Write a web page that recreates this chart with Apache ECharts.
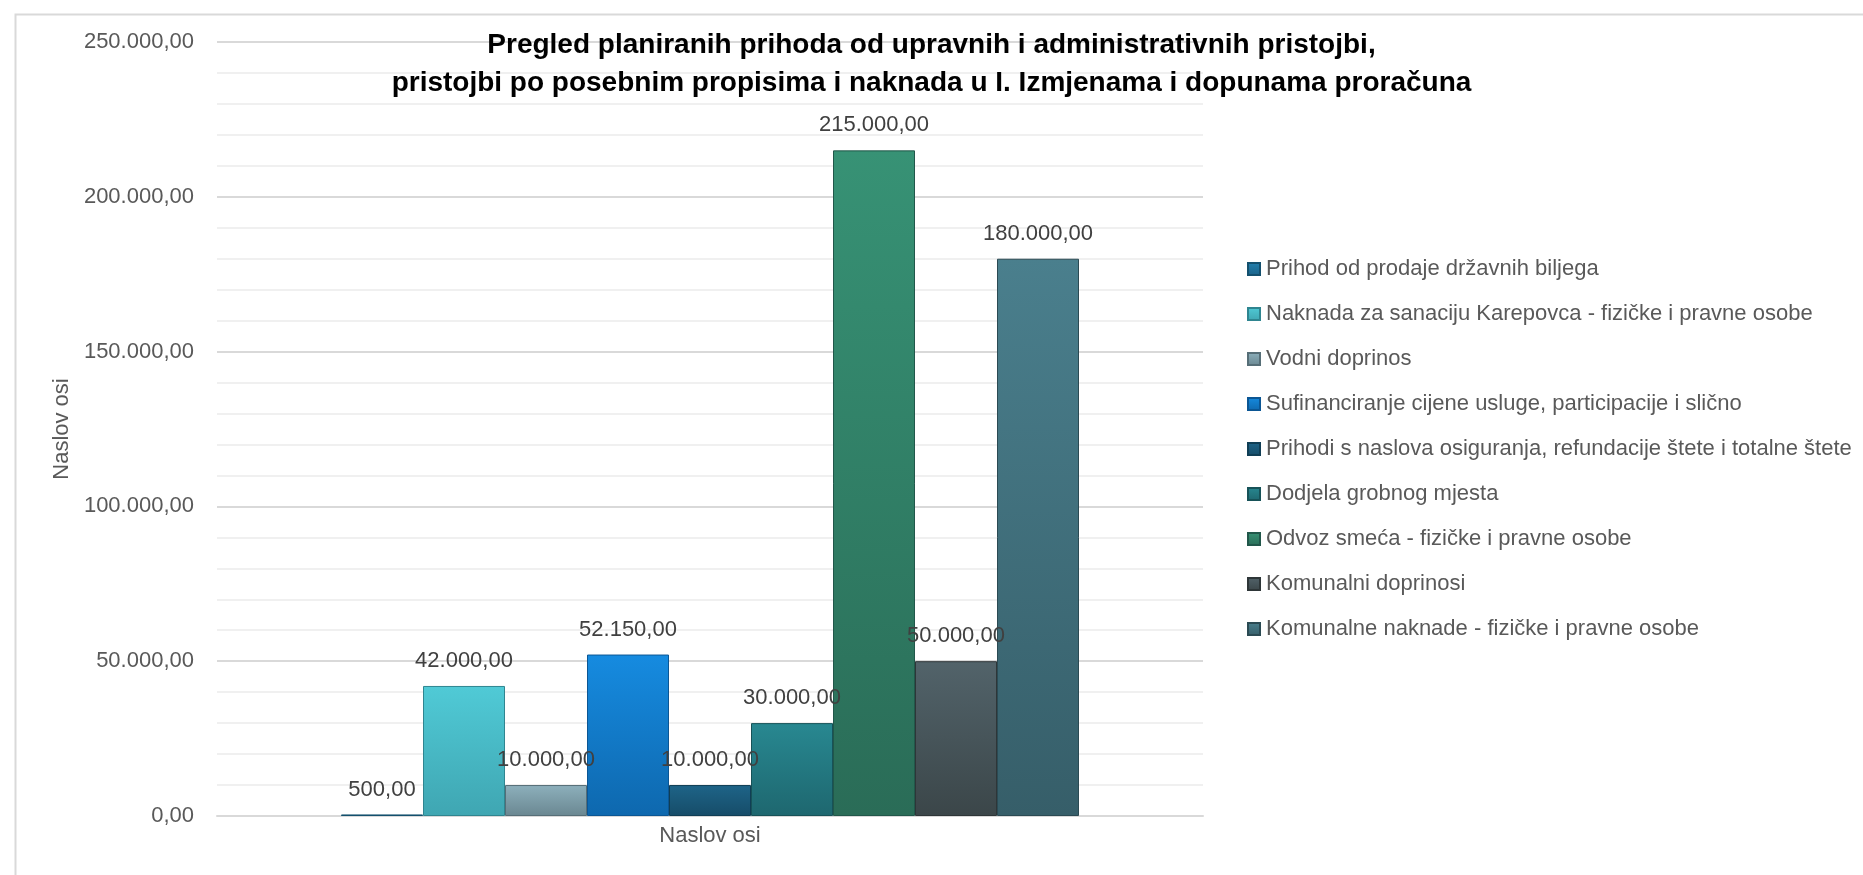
<!DOCTYPE html>
<html>
<head>
<meta charset="utf-8">
<script src="https://cdn.jsdelivr.net/npm/echarts@6/dist/echarts.min.js"></script>
<style>
  html, body { margin: 0; padding: 0; background: #fff; }
  #chart { width: 1863px; height: 875px; }
</style>
</head>
<body>
<div id="chart"></div>
<script>
const titleLines = [
  'Pregled planiranih prihoda od upravnih i administrativnih pristojbi,',
  'pristojbi po posebnim propisima i naknada u I. Izmjenama i dopunama proračuna'
];
const categories = [''];
const seriesNames = [
  'Prihod od prodaje državnih biljega',
  'Naknada za sanaciju Karepovca - fizičke i pravne osobe',
  'Vodni doprinos',
  'Sufinanciranje cijene usluge, participacije i slično',
  'Prihodi s naslova osiguranja, refundacije štete i totalne štete',
  'Dodjela grobnog mjesta',
  'Odvoz smeća - fizičke i pravne osobe',
  'Komunalni doprinosi',
  'Komunalne naknade - fizičke i pravne osobe'
];
const seriesValues = [500, 42000, 10000, 52150, 10000, 30000, 215000, 50000, 180000];
const yTicks = [0, 50000, 100000, 150000, 200000, 250000];
const axisTitle = 'Naslov osi';

const topColors    = ['#2380AE', '#50CAD6', '#8DB0BC', '#168BE0', '#1E6488', '#288891', '#379275', '#52636A', '#4A7F8D'];
const bottomColors = ['#1A6288', '#3FA6B2', '#6A8791', '#0E68AE', '#164C68', '#1E676F', '#2A6C57', '#3B4649', '#365E69'];
const borderColors = ['#14506E', '#2F8590', '#566E77', '#0B5694', '#103E55', '#175258', '#21574A', '#2E3638', '#2B4A53'];

function fmt(v) {
  const neg = v < 0;
  const parts = Math.abs(v).toFixed(2).split('.');
  const intPart = parts[0].replace(/\B(?=(\d{3})+(?!\d))/g, '.');
  return (neg ? '-' : '') + intPart + ',' + parts[1];
}

const FONT = '"Liberation Sans", Arial, sans-serif';
const chart = echarts.init(document.getElementById('chart'), null, { renderer: 'canvas' });

const series = seriesNames.map((name, i) => ({
  name: name,
  type: 'bar',
  barWidth: 82,
  barGap: '0%',
  data: [seriesValues[i]],
  itemStyle: {
    color: new echarts.graphic.LinearGradient(0, 0, 0, 1, [
      { offset: 0, color: topColors[i] },
      { offset: 1, color: bottomColors[i] }
    ]),
    borderColor: borderColors[i],
    borderWidth: 1
  },
  label: {
    show: true,
    position: 'top',
    distance: 14,
    formatter: p => fmt(p.value),
    color: '#404040',
    fontFamily: FONT,
    fontSize: 22
  }
}));

chart.setOption({
  animation: false,
  backgroundColor: '#ffffff',
  graphic: [{
    type: 'rect',
    left: 13, top: 12,
    shape: { width: 1863, height: 900 },
    style: { fill: 'none', stroke: '#d9d9d9', lineWidth: 2 },
    silent: true,
    z: -1
  }],
  title: {
    text: titleLines.join('\n'),
    left: 'center',
    top: 21,
    textStyle: {
      fontFamily: FONT,
      fontWeight: 'bold',
      fontSize: 28,
      lineHeight: 38,
      color: '#000000'
    }
  },
  grid: { left: 217, right: 660, top: 42, bottom: 59, containLabel: false },
  legend: {
    orient: 'vertical',
    left: 1247,
    top: 257,
    padding: 0,
    itemWidth: 12,
    itemHeight: 12,
    itemGap: 21,
    icon: 'rect',
    data: seriesNames,
    textStyle: { fontFamily: FONT, fontSize: 22, color: '#595959', lineHeight: 24, padding: [0, 0, 0, 1] }
  },
  xAxis: {
    type: 'category',
    data: categories,
    name: axisTitle,
    nameLocation: 'middle',
    nameGap: 9,
    nameTextStyle: { fontFamily: FONT, fontSize: 22, color: '#595959', verticalAlign: 'top' },
    axisLine: { show: true, lineStyle: { color: '#d9d9d9', width: 2 } },
    axisTick: { show: false },
    axisLabel: { show: false }
  },
  yAxis: {
    type: 'value',
    min: 0,
    max: 250000,
    interval: 50000,
    name: axisTitle,
    nameLocation: 'middle',
    nameGap: 142,
    nameTextStyle: { fontFamily: FONT, fontSize: 22, color: '#595959' },
    axisLine: { show: false },
    axisTick: { show: false },
    axisLabel: {
      margin: 23,
      fontFamily: FONT,
      fontSize: 22,
      color: '#595959',
      formatter: v => fmt(v)
    },
    splitLine: { show: true, lineStyle: { color: '#d9d9d9', width: 2 } },
    minorTick: { show: false, splitNumber: 5 },
    minorSplitLine: { show: true, lineStyle: { color: '#f0f0f0', width: 2 } }
  },
  series: series
});
</script>
</body>
</html>
